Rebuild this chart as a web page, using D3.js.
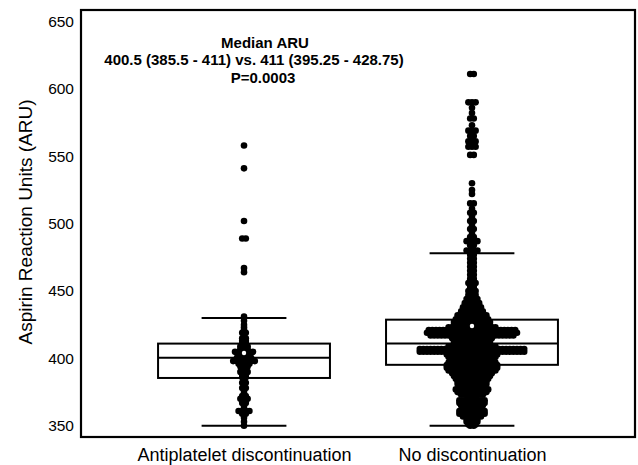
<!DOCTYPE html>
<html>
<head>
<meta charset="utf-8">
<script src="https://cdn.jsdelivr.net/npm/d3@7"></script>
<style>
  html, body { margin: 0; padding: 0; background: #fff; }
  svg { display: block; font-family: Arial, "Liberation Sans", sans-serif; }
</style>
</head>
<body>
<div id="chart"></div>
<script>
// ---------------- data ----------------
const categories = ["Antiplatelet discontinuation", "No discontinuation"];
const yTicks = [350, 400, 450, 500, 550, 600, 650];
const yLabel = "Aspirin Reaction Units (ARU)";
const annotationLines = ["Median ARU", "400.5 (385.5 - 411) vs. 411 (395.25 - 428.75)", "P=0.0003"];

const q1 = [385.5, 395.25];
const medians = [400.5, 411];
const q3 = [411, 428.75];
const whiskerLow = [350, 350];
const whiskerHigh = [430, 478];
const means = [404, 424];

// dot plot rows: value and number of observations at that value
const antiplateletValues = [558, 541, 502, 489, 467, 464,
  431, 428, 425, 423, 421, 419, 417, 415, 413, 411, 409, 407, 405, 404, 402, 400, 398, 396, 394,
  392, 390, 388, 386, 384, 382, 380, 378, 375, 372, 370, 367, 364, 361, 359, 356, 353, 350];
const antiplateletCounts = [1, 1, 1, 2, 1, 1,
  1, 1, 1, 1, 1, 2, 1, 2, 2, 2, 3, 3, 6, 5, 4, 5, 7, 4, 3,
  2, 3, 2, 2, 1, 2, 1, 2, 1, 2, 3, 2, 1, 4, 2, 1, 1, 1];

const noDiscValues = [611, 590, 586, 582, 578, 573, 569, 565, 561, 557, 551,
  530, 525, 522, 515, 511, 508, 505, 502, 499, 496, 493, 490, 487, 484, 480, 477, 474, 471, 468,
  465, 462, 459, 456, 453, 450, 447, 444, 441, 438, 435, 432, 429, 427, 425, 423, 421, 419, 417,
  415, 413, 411, 409, 407, 405, 403, 401, 399, 397, 395, 393, 391, 389, 387, 385, 383, 381, 379,
  377, 375, 373, 371, 369, 367, 365, 363, 361, 359, 357, 355, 353, 351, 350];
const noDiscCounts = [2, 3, 1, 1, 2, 1, 3, 2, 3, 3, 2,
  1, 1, 1, 2, 1, 2, 1, 2, 1, 2, 1, 2, 4, 2, 4, 2, 2, 2, 2,
  2, 2, 2, 3, 2, 3, 3, 4, 5, 6, 7, 9, 10, 11, 11, 14, 25, 26, 24,
  12, 11, 11, 14, 30, 30, 15, 14, 13, 14, 15, 15, 14, 12, 11, 10, 9, 9, 8,
  10, 9, 7, 3, 8, 8, 7, 3, 8, 8, 6, 4, 4, 3, 2];

const groupValues = [antiplateletValues, noDiscValues];
const groupCounts = [antiplateletCounts, noDiscCounts];

// ---------------- layout ----------------
const W = 638, H = 465;
const plot = { left: 81, right: 635, top: 10, bottom: 437 };
const dotR = 3.3, dotStep = 3.6;

const svg = d3.select("#chart").append("svg").attr("width", W).attr("height", H);

const y = d3.scaleLinear().domain([341.7, 658.5]).range([plot.bottom, plot.top]);
const x = d3.scalePoint().domain(categories).range([plot.left, plot.right]).padding(0.715);
const step = x.step();
const boxW = step * 0.754;
const capW = step * 0.372;

// frame
svg.append("rect")
  .attr("x", plot.left).attr("y", plot.top)
  .attr("width", plot.right - plot.left).attr("height", plot.bottom - plot.top)
  .attr("fill", "none").attr("stroke", "#000").attr("stroke-width", 2.2);

// y axis labels
const yAxis = d3.axisLeft(y).tickValues(yTicks).tickSize(0).tickPadding(7);
const gy = svg.append("g").attr("transform", `translate(${plot.left},0)`).call(yAxis);
gy.select(".domain").remove();
gy.selectAll("text").attr("font-size", 15.5).attr("fill", "#000")
  .attr("font-family", "Arial, 'Liberation Sans', sans-serif");

// x axis labels
const xAxis = d3.axisBottom(x).tickSize(0).tickPadding(11);
const gx = svg.append("g").attr("transform", `translate(0,${plot.bottom})`).call(xAxis);
gx.select(".domain").remove();
gx.selectAll("text").attr("font-size", 18).attr("fill", "#000")
  .attr("font-family", "Arial, 'Liberation Sans', sans-serif");

// y axis title
svg.append("text")
  .attr("transform", `translate(32,${222}) rotate(-90)`)
  .attr("text-anchor", "middle")
  .attr("font-size", 19)
  .attr("fill", "#000")
  .text(yLabel);

// annotation
const annX = [265, 254, 263];
const annY = [48, 65, 83];
annotationLines.forEach((t, i) => {
  svg.append("text")
    .attr("x", annX[i]).attr("y", annY[i])
    .attr("text-anchor", "middle")
    .attr("font-size", 15)
    .attr("font-weight", "bold")
    .attr("fill", "#000")
    .text(t);
});

// boxes
categories.forEach((c, i) => {
  const cx = x(c);
  const g = svg.append("g");
  g.append("rect")
    .attr("x", cx - boxW / 2).attr("y", y(q3[i]))
    .attr("width", boxW).attr("height", y(q1[i]) - y(q3[i]))
    .attr("fill", "#fff").attr("stroke", "#000").attr("stroke-width", 2);
  g.append("line")
    .attr("x1", cx - boxW / 2).attr("x2", cx + boxW / 2)
    .attr("y1", y(medians[i])).attr("y2", y(medians[i]))
    .attr("stroke", "#000").attr("stroke-width", 2);
  [whiskerLow[i], whiskerHigh[i]].forEach(v => {
    g.append("line")
      .attr("x1", cx - capW / 2).attr("x2", cx + capW / 2)
      .attr("y1", y(v)).attr("y2", y(v))
      .attr("stroke", "#000").attr("stroke-width", 2);
  });
});

// dots
categories.forEach((c, i) => {
  const cx = x(c);
  const pts = [];
  groupValues[i].forEach((v, j) => {
    const n = groupCounts[i][j];
    for (let k = 0; k < n; k++) {
      pts.push({ x: cx + (k - (n - 1) / 2) * dotStep, v });
    }
  });
  svg.append("g").selectAll("circle").data(pts).join("circle")
    .attr("cx", d => d.x).attr("cy", d => y(d.v))
    .attr("r", dotR).attr("fill", "#000");
  // mean marker
  svg.append("circle")
    .attr("cx", cx).attr("cy", y(means[i]))
    .attr("r", 2.2).attr("fill", "#fff");
});
</script>
</body>
</html>
